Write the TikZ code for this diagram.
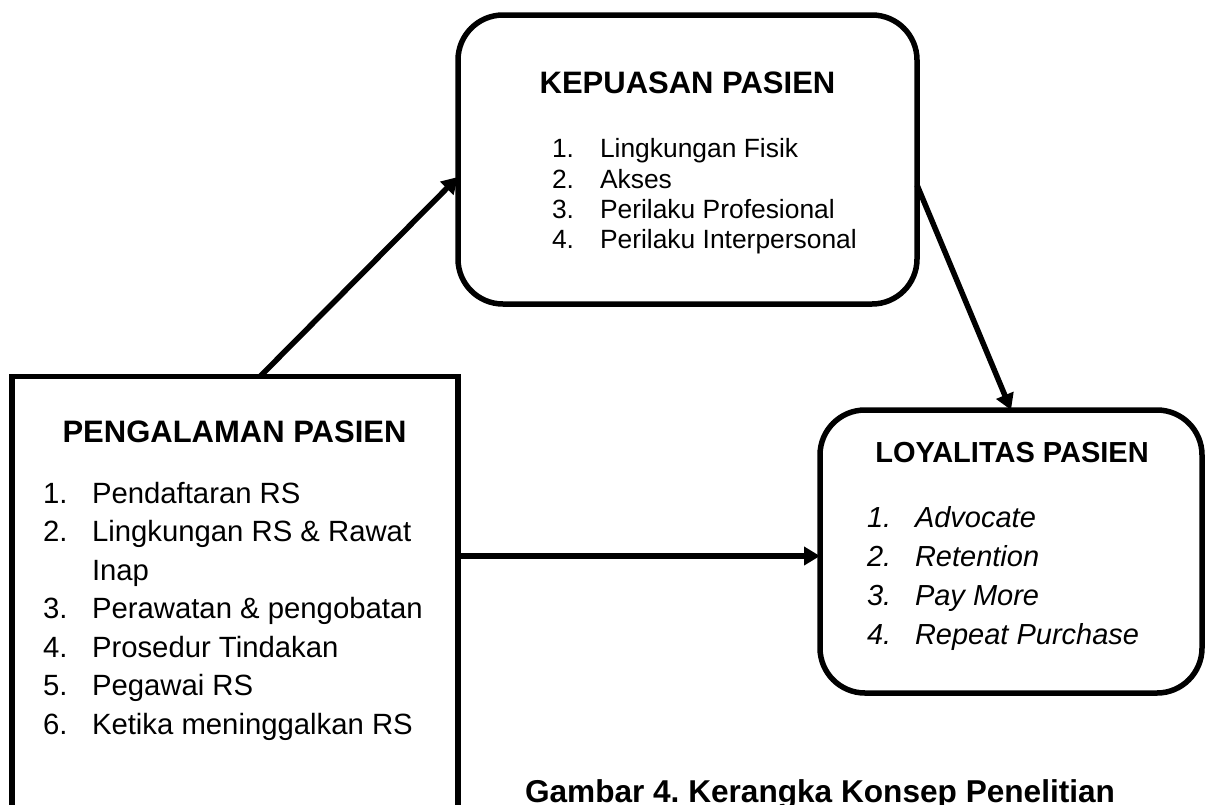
\documentclass[tikz,border=0pt]{standalone}
\usepackage{fontspec}
\setmainfont{Liberation Sans}
\usetikzlibrary{arrows.meta,calc}
\newcommand\myfs[1]{\fontsize{#1}{#1}\selectfont}
\frenchspacing
\begin{document}
\begin{tikzpicture}[x=1pt,y=-1pt,
  box/.style={draw, line width=5.5pt, inner sep=0pt, outer sep=0pt},
  rbox/.style={box, rounded corners=45pt},
  conn/.style={line width=5.5pt, -{Triangle[length=16pt,width=18pt]}},
  txt/.style={inner sep=0pt, outer sep=0pt, anchor=base west},
  ctr/.style={inner sep=0pt, outer sep=0pt, anchor=base},
  ttl/.style={ctr, font=\myfs{31}\bfseries},
  litem/.style={txt, font=\myfs{29.3}},
  kitem/.style={txt, font=\myfs{26.4}},
  yitem/.style={txt, font=\myfs{29}\itshape}
]
\useasboundingbox (0,0) rectangle (1207,804);
\clip (0,0) rectangle (1207,804);

% boxes
\node[box, minimum width=446pt, minimum height=500pt] (peng) at (235,626.5) {};
\node[rbox, minimum width=459pt, minimum height=289pt] (kep) at (687.5,159.5) {};
\node[rbox, minimum width=382pt, minimum height=283pt] (loy) at (1011,551.5) {};

% connectors
\draw[conn] ([xshift=248pt]peng.north west) -- ([yshift=-17.5pt]kep.west);
\draw[conn] ([yshift=-25.5pt]kep.east) -- (loy.north);
\coordinate (h) at ([yshift=-4.5pt]loy.west);
\draw[conn] (peng.east |- h) -- (h);

% PENGALAMAN PASIEN
\node[ttl] (pt) at (234.5,442) {PENGALAMAN PASIEN};
\node[litem] (pn1) at (43,503) {1.};
\node[litem] (px1) at (92,503) {Pendaftaran RS};
\node[litem] (pn2) at (43,541.5) {2.};
\node[litem] (px2) at (92,541.5) {Lingkungan RS \& Rawat};
\node[litem] (px2b) at (92,580) {Inap};
\node[litem] (pn3) at (43,618.5) {3.};
\node[litem] (px3) at (92,618.5) {Perawatan \& pengobatan};
\node[litem] (pn4) at (43,657) {4.};
\node[litem] (px4) at (92,657) {Prosedur Tindakan};
\node[litem] (pn5) at (43,695.5) {5.};
\node[litem] (px5) at (92,695.5) {Pegawai RS};
\node[litem] (pn6) at (43,734) {6.};
\node[litem] (px6) at (92,734) {Ketika meninggalkan RS};

% KEPUASAN PASIEN
\node[ttl] (kt) at (687.5,93) {KEPUASAN PASIEN};
\node[kitem] (kn1) at (552,157) {1.};
\node[kitem] (kx1) at (600,157) {Lingkungan Fisik};
\node[kitem] (kn2) at (552,188) {2.};
\node[kitem] (kx2) at (600,188) {Akses};
\node[kitem] (kn3) at (552,218) {3.};
\node[kitem] (kx3) at (600,218) {Perilaku Profesional};
\node[kitem] (kn4) at (552,248) {4.};
\node[kitem] (kx4) at (600,248) {Perilaku Interpersonal};

% LOYALITAS PASIEN
\node[ctr, font=\myfs{29}\bfseries] (lt) at (1012,462) {LOYALITAS PASIEN};
\node[yitem] (ln1) at (867,527) {1.};
\node[yitem] (lx1) at (915,527) {Advocate};
\node[yitem] (ln2) at (867,566) {2.};
\node[yitem] (lx2) at (915,566) {Retention};
\node[yitem] (ln3) at (867,605) {3.};
\node[yitem] (lx3) at (915,605) {Pay More};
\node[yitem] (ln4) at (867,644) {4.};
\node[yitem] (lx4) at (915,644) {Repeat Purchase};

% caption
\node[txt, font=\myfs{31.6}\bfseries] (cap) at (525,802) {Gambar 4. Kerangka Konsep Penelitian};
\end{tikzpicture}
\end{document}
